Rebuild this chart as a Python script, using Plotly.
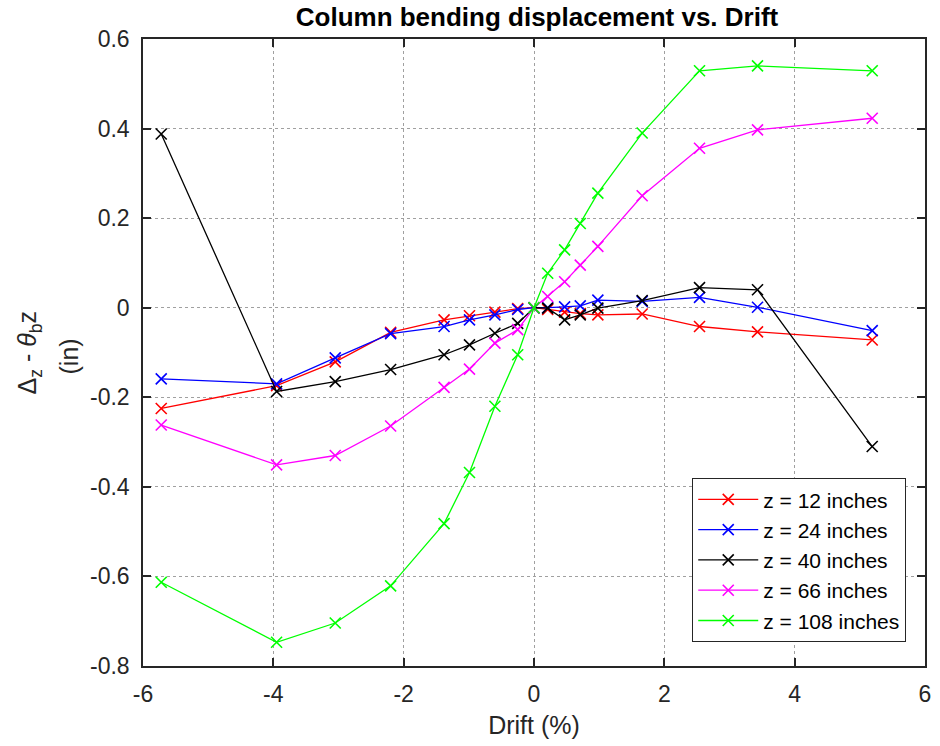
import plotly.graph_objects as go

# Drift levels (%) at which the column displacement was sampled
drift = [-5.72, -3.95, -3.05, -2.2, -1.38, -0.99, -0.6, -0.25, 0.0,
         0.21, 0.47, 0.71, 0.98, 1.66, 2.54, 3.43, 5.19]

# Bending displacement (in) at each gauge height
z12 = [-0.225, -0.174, -0.121, -0.055, -0.027, -0.018, -0.010, -0.002, 0.0,
       -0.004, -0.010, -0.013, -0.016, -0.014, -0.042, -0.054, -0.072]
z24 = [-0.159, -0.170, -0.112, -0.058, -0.042, -0.027, -0.016, -0.004, 0.0,
       0.0, 0.002, 0.004, 0.017, 0.014, 0.023, 0.001, -0.051]
z40 = [0.388, -0.187, -0.165, -0.138, -0.105, -0.083, -0.057, -0.035, 0.0,
       -0.001, -0.027, -0.016, -0.001, 0.016, 0.045, 0.040, -0.310]
z66 = [-0.262, -0.351, -0.330, -0.264, -0.178, -0.137, -0.079, -0.049, 0.0,
       0.025, 0.058, 0.095, 0.137, 0.250, 0.356, 0.397, 0.423]
z108 = [-0.613, -0.747, -0.704, -0.621, -0.482, -0.368, -0.220, -0.105, 0.0,
        0.077, 0.129, 0.188, 0.256, 0.390, 0.529, 0.540, 0.529]

series_names = ["z = 12 inches", "z = 24 inches", "z = 40 inches",
                "z = 66 inches", "z = 108 inches"]
series_values = [z12, z24, z40, z66, z108]
series_colors = ["#ff0000", "#0000ff", "#000000", "#ff00ff", "#00ff00"]

x_ticks = [-6, -4, -2, 0, 2, 4, 6]
x_ticktext = ["-6", "-4", "-2", "0", "2", "4", "6"]
y_ticks = [0.6, 0.4, 0.2, 0, -0.2, -0.4, -0.6, -0.8]
y_ticktext = ["0.6", "0.4", "0.2", "0", "-0.2", "-0.4", "-0.6", "-0.8"]

FONT = "Liberation Sans, Arial, Helvetica, sans-serif"
AXIS_COLOR = "#262626"

# plot-area geometry in pixels (used to place the y label lines)
L, R, T, B = 143, 9, 39, 80
PLOT_W = 940 - L - R

fig = go.Figure()
for name, vals, col in zip(series_names, series_values, series_colors):
    fig.add_trace(go.Scatter(
        x=drift, y=vals, name=name, mode="lines+markers",
        line=dict(color=col, width=1.3),
        marker=dict(symbol="x-thin", size=11, color=col,
                    line=dict(color=col, width=1.6)),
    ))

axis_common = dict(
    showline=True, linecolor=AXIS_COLOR, linewidth=1.5, mirror="ticks",
    ticks="inside", ticklen=8, tickwidth=1.5, tickcolor=AXIS_COLOR,
    showgrid=True, gridcolor="#a0a0a0", gridwidth=1, griddash="dot",
    zeroline=False, tickfont=dict(family=FONT, size=23, color=AXIS_COLOR),
)

fig.update_xaxes(range=[-6, 6], tickvals=x_ticks, ticktext=x_ticktext,
                 ticklabelstandoff=7,
                 title=dict(text="Drift (%)", standoff=10,
                            font=dict(family=FONT, size=25, color=AXIS_COLOR)),
                 **axis_common)
fig.update_yaxes(range=[-0.8, 0.6], tickvals=y_ticks, ticktext=y_ticktext,
                 ticklabelstandoff=7, **axis_common)

# two-line y label, one annotation per line
fig.add_annotation(
    text="Δ<sub>z</sub> - <i>θ</i><sub>b</sub>z",
    xref="paper", yref="paper", x=(28 - L) / PLOT_W, y=0.5,
    xanchor="center", yanchor="middle", textangle=-90, showarrow=False,
    font=dict(family=FONT, size=25, color=AXIS_COLOR),
)
fig.add_annotation(
    text="(in)",
    xref="paper", yref="paper", x=(68 - L) / PLOT_W, y=0.493,
    xanchor="center", yanchor="middle", textangle=-90, showarrow=False,
    font=dict(family=FONT, size=25, color=AXIS_COLOR),
)

fig.update_layout(
    width=940, height=746,
    margin=dict(l=L, r=R, t=T, b=B),
    paper_bgcolor="white", plot_bgcolor="white",
    title=dict(text="<b>Column bending displacement vs. Drift</b>",
               x=(L + 940 - R) / 2 / 940, xanchor="center",
               y=(746 - 17) / 746, yanchor="middle", yref="container",
               font=dict(family=FONT, size=26, color="#000000")),
    legend=dict(x=0.976, y=0.038, xanchor="right", yanchor="bottom",
                bgcolor="white", bordercolor=AXIS_COLOR, borderwidth=1,
                font=dict(family=FONT, size=21, color="#000000"),
                itemwidth=60),
    showlegend=True,
)

fig.write_html("out.html")
